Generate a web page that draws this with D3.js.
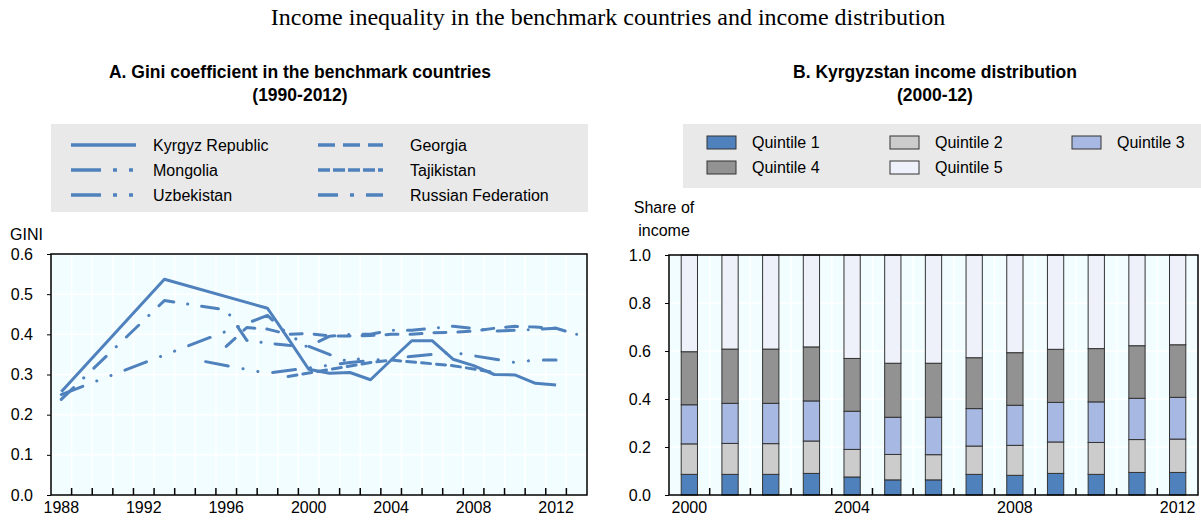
<!DOCTYPE html>
<html>
<head>
<meta charset="utf-8">
<script src="https://cdn.jsdelivr.net/npm/d3@7"></script>
<style>
  body { margin: 0; background: #fff; }
  svg { display: block; }
</style>
</head>
<body>
<svg id="chart" width="1201" height="520"></svg>
<script>
// ── Panel A: Gini coefficient, [year, value] ─────────────────────────────────
const kyrgyz = [[1988, 0.257], [1993, 0.537], [1998, 0.465], [1999, 0.39], [2000, 0.313], [2001, 0.303],
  [2002, 0.305], [2003, 0.287], [2004, 0.336], [2005, 0.384], [2006, 0.384], [2007, 0.338], [2008, 0.322],
  [2009, 0.3], [2010, 0.299], [2011, 0.278], [2012, 0.274]]
const georgia = [[1996, 0.37], [1997, 0.417], [1998, 0.413], [1999, 0.4], [2000, 0.402], [2001, 0.396],
  [2002, 0.396], [2003, 0.397], [2004, 0.4], [2005, 0.4], [2006, 0.404], [2007, 0.405], [2008, 0.408],
  [2009, 0.415], [2010, 0.42], [2011, 0.418], [2012, 0.415], [2013, 0.4]]
const mongolia = [[1995, 0.332], [1998, 0.303], [2002, 0.33], [2007, 0.355], [2010, 0.33], [2011, 0.336], [2012, 0.336]]
const tajikistan = [[1999, 0.295], [2003, 0.33], [2004, 0.336], [2007, 0.322], [2009, 0.305]]
const uzbekistan = [[1988, 0.25], [1998, 0.447], [1999, 0.4], [2000, 0.37], [2001, 0.35], [2002, 0.33], [2003, 0.35]]
const russia = [[1988, 0.238], [1993, 0.484], [1996, 0.461], [1997, 0.385], [1998, 0.378], [1999, 0.373],
  [2000, 0.37], [2001, 0.395], [2002, 0.4], [2003, 0.4], [2004, 0.41], [2005, 0.41], [2006, 0.415],
  [2007, 0.42], [2008, 0.415], [2009, 0.408], [2010, 0.41], [2011, 0.412], [2012, 0.415]]

const giniYearsAxis = d3.range(1988, 2014)
const giniTickLabels = [1988, 1992, 1996, 2000, 2004, 2008, 2012]
const giniYTicks = [0, 0.1, 0.2, 0.3, 0.4, 0.5, 0.6]

// ── Panel B: Kyrgyzstan income shares by quintile ───────────────────────────
const quintileYears = [2000, 2001, 2002, 2003, 2004, 2005, 2006, 2007, 2008, 2009, 2010, 2011, 2012]
const quintile1 = [0.086, 0.086, 0.086, 0.090, 0.075, 0.063, 0.063, 0.086, 0.082, 0.090, 0.086, 0.094, 0.094]
const quintile2 = [0.127, 0.129, 0.128, 0.135, 0.115, 0.106, 0.105, 0.118, 0.125, 0.131, 0.133, 0.137, 0.139]
const quintile3 = [0.163, 0.167, 0.168, 0.167, 0.159, 0.155, 0.156, 0.156, 0.167, 0.165, 0.169, 0.172, 0.174]
const quintile4 = [0.221, 0.226, 0.226, 0.225, 0.220, 0.225, 0.225, 0.212, 0.219, 0.221, 0.222, 0.219, 0.219]
const quintile5 = [0.403, 0.392, 0.392, 0.383, 0.431, 0.451, 0.451, 0.428, 0.407, 0.393, 0.390, 0.378, 0.374]
const quintileTickLabels = [2000, 2004, 2008, 2012]
const shareYTicks = [0, 0.2, 0.4, 0.6, 0.8, 1.0]

const LINE = '#4f81bd'
const PLOT_BG = '#f2fdff'
const SANS = '"Liberation Sans", Arial, sans-serif'
const NARROW = '"Liberation Sans Narrow", "Arial Narrow", sans-serif'

const svg = d3.select('#chart')

svg.append('text')
  .attr('x', 608).attr('y', 25).attr('text-anchor', 'middle')
  .attr('font-family', '"Liberation Serif", "Times New Roman", serif').attr('font-size', 24)
  .text('Income inequality in the benchmark countries and income distribution')

function panelTitle(cx, l1, l2) {
  const t = svg.append('g').attr('font-family', NARROW).attr('font-weight', 700).attr('font-size', 17.5)
    .attr('text-anchor', 'middle')
  t.append('text').attr('x', cx).attr('y', 78).text(l1)
  t.append('text').attr('x', cx).attr('y', 101).text(l2)
}
panelTitle(300, 'A. Gini coefficient in the benchmark countries', '(1990-2012)')
panelTitle(935, 'B. Kyrgyzstan income distribution', '(2000-12)')

// ── Panel A ─────────────────────────────────────────────────────────────────
const A = { left: 51, right: 587, top: 254, bottom: 495 }
const xA = d3.scaleBand().domain(giniYearsAxis).range([A.left, A.right]).padding(0)
const yA = d3.scaleLinear().domain([0, 0.6]).range([A.bottom, A.top])
const cxA = yr => xA(yr) + xA.bandwidth() / 2

const gA = svg.append('g')
gA.append('rect').attr('x', A.left).attr('y', A.top)
  .attr('width', A.right - A.left).attr('height', A.bottom - A.top).attr('fill', PLOT_BG)

// gridlines
gA.selectAll('.hgrid').data(giniYTicks.slice(1)).join('line')
  .attr('x1', A.left).attr('x2', A.right).attr('y1', d => yA(d)).attr('y2', d => yA(d))
  .attr('stroke', '#fff').attr('stroke-width', 1.5)
gA.selectAll('.vgrid').data(giniYearsAxis.slice(1)).join('line')
  .attr('x1', d => xA(d)).attr('x2', d => xA(d)).attr('y1', A.top).attr('y2', A.bottom)
  .attr('stroke', '#fff').attr('stroke-width', 1.5)

// dash = pattern on the plot (round caps), legDash = pattern for the legend sample (butt caps)
const giniSeries = [
  { name: 'Kyrgyz Republic', data: kyrgyz, dash: null, legDash: null },
  { name: 'Georgia', data: georgia, dash: '12,12', legDash: '17,8' },
  { name: 'Mongolia', data: mongolia, dash: '23,15,0.1,15,0.1,15', legDash: '30,12,4,12,4,20' },
  { name: 'Tajikistan', data: tajikistan, dash: '9,6', legDash: '12,3' },
  { name: 'Uzbekistan', data: uzbekistan, dash: '23,15,0.1,15,0.1,15', legDash: '30,12,4,12,4,20' },
  { name: 'Russian Federation', data: russia, dash: '17,14,0.1,14', legDash: '20,12,4,12' },
]

const line = d3.line().x(d => cxA(d[0])).y(d => yA(d[1]))
giniSeries.slice().reverse().forEach(s => {
  gA.append('path').datum(s.data)
    .attr('d', line).attr('fill', 'none')
    .attr('stroke', LINE).attr('stroke-width', 3)
    .attr('stroke-linecap', s.dash ? 'round' : 'butt')
    .attr('stroke-linejoin', 'round')
    .attr('stroke-dasharray', s.dash)
})

// frame and axes
gA.append('rect').attr('x', A.left).attr('y', A.top)
  .attr('width', A.right - A.left).attr('height', A.bottom - A.top)
  .attr('fill', 'none').attr('stroke', '#000').attr('stroke-width', 1.5)

const axA = gA.append('g').attr('transform', `translate(0,${A.bottom})`)
  .call(d3.axisBottom(xA).tickValues(giniYearsAxis.slice(1)).tickSize(-7).tickFormat(''))
axA.select('.domain').remove()
axA.selectAll('.tick').attr('transform', d => `translate(${xA(d)},0)`)
axA.selectAll('line').attr('stroke', '#000').attr('stroke-width', 1.5)
gA.selectAll('.xlab').data(giniTickLabels).join('text')
  .attr('x', d => cxA(d)).attr('y', 513).attr('text-anchor', 'middle')
  .attr('font-family', SANS).attr('font-size', 16).text(d => d)

const ayA = gA.append('g').attr('transform', `translate(${A.left},0)`)
  .call(d3.axisLeft(yA).tickValues(giniYTicks).tickSize(4).tickPadding(14).tickFormat(d3.format('.1f')))
ayA.select('.domain').remove()
ayA.selectAll('text').attr('font-family', SANS).attr('font-size', 16).attr('fill', '#000')
ayA.selectAll('line').attr('stroke', '#000')

gA.append('text').attr('x', 10).attr('y', 240).attr('font-family', SANS).attr('font-size', 16).text('GINI')

// legend A
const legA = svg.append('g')
legA.append('rect').attr('x', 51).attr('y', 124).attr('width', 537).attr('height', 88).attr('fill', '#e9e9e9')
giniSeries.forEach((s, i) => {
  const col = i % 2, row = Math.floor(i / 2)
  const lx = col ? 318 : 71, tx = col ? 410 : 153, ly = 145 + row * 25
  legA.append('line').attr('x1', lx).attr('x2', lx + 65).attr('y1', ly).attr('y2', ly)
    .attr('stroke', LINE).attr('stroke-width', 3.5)
    .attr('stroke-dasharray', s.legDash)
    .attr('stroke-linecap', 'butt')
  legA.append('text').attr('x', tx).attr('y', ly + 6)
    .attr('font-family', SANS).attr('font-size', 16).text(s.name)
})

// ── Panel B ─────────────────────────────────────────────────────────────────
const B = { left: 669, right: 1198, top: 255, bottom: 495 }
const xB = d3.scaleBand().domain(quintileYears).range([B.left, B.right]).padding(0)
const yB = d3.scaleLinear().domain([0, 1]).range([B.bottom, B.top])

const gB = svg.append('g')
gB.append('rect').attr('x', B.left).attr('y', B.top)
  .attr('width', B.right - B.left).attr('height', B.bottom - B.top).attr('fill', PLOT_BG)
gB.selectAll('.hgrid').data(shareYTicks.slice(1)).join('line')
  .attr('x1', B.left).attr('x2', B.right).attr('y1', d => yB(d)).attr('y2', d => yB(d))
  .attr('stroke', '#fff').attr('stroke-width', 1.5)
gB.selectAll('.vgrid').data(quintileYears.slice(1)).join('line')
  .attr('x1', d => xB(d)).attr('x2', d => xB(d)).attr('y1', B.top).attr('y2', B.bottom)
  .attr('stroke', '#fff').attr('stroke-width', 1.5)

const quintileNames = ['Quintile 1', 'Quintile 2', 'Quintile 3', 'Quintile 4', 'Quintile 5']
const quintileColors = ['#4f81bd', '#cccccc', '#a7b9e3', '#929292', '#eef1f9']
const quintileRows = quintileYears.map((yr, i) => ({
  year: yr, q1: quintile1[i], q2: quintile2[i], q3: quintile3[i], q4: quintile4[i], q5: quintile5[i],
}))
const stacked = d3.stack().keys(['q1', 'q2', 'q3', 'q4', 'q5'])(quintileRows)
const barW = xB.bandwidth() * 0.4

stacked.forEach((layer, k) => {
  gB.append('g').selectAll('rect').data(layer).join('rect')
    .attr('x', d => xB(d.data.year) + (xB.bandwidth() - barW) / 2)
    .attr('width', barW)
    .attr('y', d => yB(d[1]))
    .attr('height', d => yB(d[0]) - yB(d[1]))
    .attr('fill', quintileColors[k])
    .attr('stroke', '#333').attr('stroke-width', 1)
})

gB.append('rect').attr('x', B.left).attr('y', B.top)
  .attr('width', B.right - B.left).attr('height', B.bottom - B.top)
  .attr('fill', 'none').attr('stroke', '#000').attr('stroke-width', 1.5)

const axB = gB.append('g').attr('transform', `translate(0,${B.bottom})`)
  .call(d3.axisBottom(xB).tickValues(quintileYears.slice(1)).tickSize(-7).tickFormat(''))
axB.select('.domain').remove()
axB.selectAll('.tick').attr('transform', d => `translate(${xB(d)},0)`)
axB.selectAll('line').attr('stroke', '#000').attr('stroke-width', 1.5)
gB.selectAll('.xlab').data(quintileTickLabels).join('text')
  .attr('x', d => xB(d) + xB.bandwidth() / 2).attr('y', 513).attr('text-anchor', 'middle')
  .attr('font-family', SANS).attr('font-size', 16).text(d => d)

const ayB = gB.append('g').attr('transform', `translate(${B.left},0)`)
  .call(d3.axisLeft(yB).tickValues(shareYTicks).tickSize(4).tickPadding(14).tickFormat(d3.format('.1f')))
ayB.select('.domain').remove()
ayB.selectAll('text').attr('font-family', SANS).attr('font-size', 16).attr('fill', '#000')
ayB.selectAll('line').attr('stroke', '#000')

gB.append('text').attr('x', 664).attr('y', 213).attr('text-anchor', 'middle')
  .attr('font-family', SANS).attr('font-size', 16).text('Share of')
gB.append('text').attr('x', 664).attr('y', 236).attr('text-anchor', 'middle')
  .attr('font-family', SANS).attr('font-size', 16).text('income')

// legend B
const legB = svg.append('g')
legB.append('rect').attr('x', 683).attr('y', 124).attr('width', 518).attr('height', 64).attr('fill', '#e9e9e9')
const legBCols = [707, 890, 1072]
quintileNames.forEach((name, i) => {
  const col = i % 3, row = Math.floor(i / 3)
  const sx = legBCols[col], sy = 136 + row * 25
  legB.append('rect').attr('x', sx).attr('y', sy).attr('width', 29).attr('height', 13)
    .attr('fill', quintileColors[i]).attr('stroke', '#333').attr('stroke-width', 1)
  legB.append('text').attr('x', sx + 45).attr('y', sy + 12)
    .attr('font-family', SANS).attr('font-size', 16).text(name)
})
</script>
</body>
</html>
